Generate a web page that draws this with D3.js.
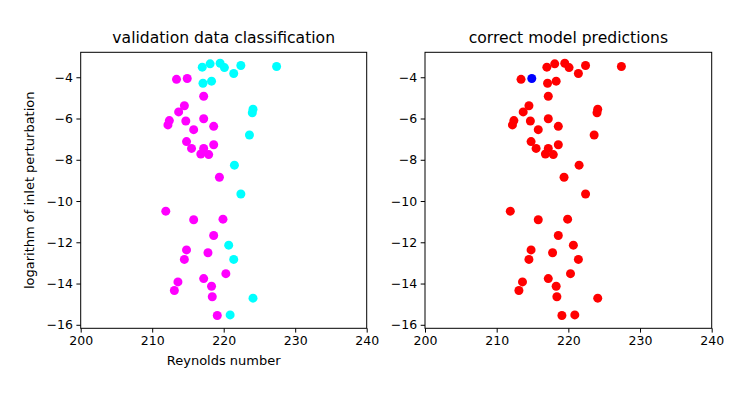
<!DOCTYPE html>
<html>
<head>
<meta charset="utf-8">
<script src="https://cdn.jsdelivr.net/npm/d3@7"></script>
<style>
  body { margin: 0; background: #fff; }
  svg text { font-family: "DejaVu Sans", sans-serif; fill: #000; }
  .axis path, .axis line { stroke: #000; stroke-width: 1; }
  .axis text { font-size: 12.5px; }
</style>
</head>
<body>
<div id="chart"></div>
<script>
var width = 748, height = 403;

// Reynolds number / log perturbation, split by class
let cyanRe = [217.0, 218.1, 219.5, 220.1, 221.4, 222.4, 227.4, 217.1, 218.3, 224.1,
              224.0, 223.6, 221.5, 222.4, 220.7, 221.4, 224.1, 220.9];
let cyanLog = [-3.51, -3.35, -3.32, -3.53, -3.82, -3.43, -3.48, -4.29, -4.19, -5.55,
               -5.72, -6.80, -8.26, -9.66, -12.14, -12.83, -14.71, -15.52];

let magRe = [213.4, 214.9, 217.2, 214.5, 213.7, 212.4, 212.2, 214.7, 217.2, 218.6,
             215.8, 214.8, 215.5, 217.2, 216.8, 217.9, 218.6, 219.4, 211.9, 215.8,
             219.9, 218.6, 214.8, 217.8, 214.5, 220.3, 217.2, 213.6, 218.3, 213.1,
             218.4, 219.1];
let magLog = [-4.10, -4.06, -4.92, -5.38, -5.68, -6.10, -6.31, -6.12, -6.01, -6.38,
              -6.54, -7.12, -7.45, -7.45, -7.72, -7.75, -7.27, -8.85, -10.49, -10.91,
              -10.88, -11.67, -12.37, -12.51, -12.83, -13.52, -13.76, -13.92, -14.13, -14.34,
              -14.64, -15.55];

// the one wrong prediction (index into the magenta list)
let wrongIdx = [1];

let xTicks = [200, 210, 220, 230, 240];
let yTicks = [-4, -6, -8, -10, -12, -14, -16];

let svg = d3.select('#chart')
  .append('svg')
  .attr('width', width)
  .attr('height', height);

let plotTop = 52.3, plotBottom = 328.3;

let yScale = d3.scaleLinear()
  .domain([-2.79, -16.17])
  .range([plotTop, plotBottom]);

let panel = (left, right, title, points) => {
  let xScale = d3.scaleLinear().domain([200, 240]).range([left, right]);
  let g = svg.append('g');

  g.selectAll('circle')
    .data(points)
    .enter()
    .append('circle')
    .attr('cx', d => xScale(d.re))
    .attr('cy', d => yScale(d.log))
    .attr('r', 4.5)
    .attr('fill', d => d.color);

  g.append('rect')
    .attr('x', left).attr('y', plotTop)
    .attr('width', right - left).attr('height', plotBottom - plotTop)
    .attr('fill', 'none').attr('stroke', '#000').attr('stroke-width', 1);

  g.append('g')
    .attr('class', 'axis')
    .attr('transform', `translate(0, ${plotBottom})`)
    .call(d3.axisBottom(xScale).tickValues(xTicks).tickSize(4.3).tickPadding(3.5).tickFormat(d3.format('d')))
    .call(a => a.select('.domain').remove());

  g.append('g')
    .attr('class', 'axis')
    .attr('transform', `translate(${left}, 0)`)
    .call(d3.axisLeft(yScale).tickValues(yTicks).tickSize(4.3).tickPadding(3.5)
      .tickFormat(d => d3.format('d')(d).replace('-', '\u2212')))
    .call(a => a.select('.domain').remove());

  g.append('text')
    .attr('x', (left + right) / 2)
    .attr('y', 43)
    .attr('text-anchor', 'middle')
    .style('font-size', '15.6px')
    .text(title);

  return xScale;
}

let leftPts = [];
cyanRe.forEach((v, i) => leftPts.push({re: v, log: cyanLog[i], color: '#00ffff'}));
magRe.forEach((v, i) => leftPts.push({re: v, log: magLog[i], color: '#ff00ff'}));

let rightPts = [];
cyanRe.forEach((v, i) => rightPts.push({re: v, log: cyanLog[i], color: '#ff0000'}));
magRe.forEach((v, i) => rightPts.push({re: v, log: magLog[i], color: wrongIdx.includes(i) ? '#0000ff' : '#ff0000'}));

panel(80.7, 366.7, 'validation data classification', leftPts);
panel(425, 711.7, 'correct model predictions', rightPts);

svg.append('text')
  .attr('x', (80.7 + 366.7) / 2)
  .attr('y', 365)
  .attr('text-anchor', 'middle')
  .style('font-size', '13px')
  .text('Reynolds number');

svg.append('text')
  .attr('transform', `translate(34, ${(plotTop + plotBottom) / 2}) rotate(-90)`)
  .attr('text-anchor', 'middle')
  .style('font-size', '13px')
  .text('logarithm of inlet perturbation');
</script>
</body>
</html>
